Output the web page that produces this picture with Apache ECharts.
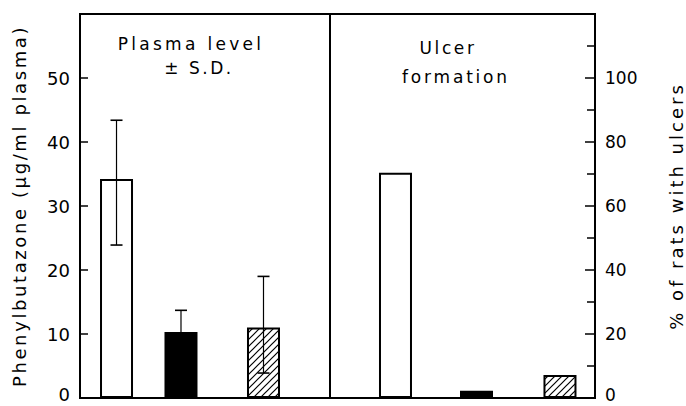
<!DOCTYPE html>
<html><head><meta charset="utf-8">
<script src="https://cdn.jsdelivr.net/npm/echarts@6/dist/echarts.min.js"></script>
<style>html,body{margin:0;padding:0;background:#fff}#c{width:686px;height:406px}</style>
</head><body><div id="c"></div>
<script>
// ---- data ----
const groupNames = ['Group 1', 'Group 2', 'Group 3'];
const plasmaLevel = [34.2, 10.3, 11.0];      // µg/ml plasma
const plasmaSDLow = [23.9, null, 3.9];       // lower end of ± S.D. bar
const plasmaSDHigh = [43.4, 13.7, 19.0];     // upper end of ± S.D. bar
const ulcerPercent = [70.4, 2.3, 7.2];       // % of rats with ulcers
const leftTicks = [0, 10, 20, 30, 40, 50];
const rightTicks = [0, 20, 40, 60, 80, 100];

// ---- layout (not data) ----
const leftPos = [7.09, 19.61, 35.63];
const rightPos = [61.26, 76.99, 93.20];
const dividerPos = 48.54;
const FONT = 'DejaVu Sans';

function hatch() {
  const s = 7, c = document.createElement('canvas');
  c.width = s; c.height = s;
  const g = c.getContext('2d');
  g.fillStyle = '#fff'; g.fillRect(0, 0, s, s);
  g.strokeStyle = '#000'; g.lineWidth = 1.2;
  g.beginPath();
  g.moveTo(0, s); g.lineTo(s, 0);
  g.moveTo(-1, 1); g.lineTo(1, -1);
  g.moveTo(s - 1, s + 1); g.lineTo(s + 1, s - 1);
  g.stroke();
  return c;
}
const fills = ['#ffffff', '#000000', { image: hatch(), repeat: 'repeat' }];
const tickFmt = ticks => v => !ticks.includes(v) ? '' : (v === 0 ? '{z|0}' : String(v));

const chart = echarts.init(document.getElementById('c'), null, { renderer: 'svg' });
const option = {
  animation: false,
  grid: { left: 80, right: 91, top: 14, bottom: 8, show: true, borderColor: '#000', borderWidth: 2,
    containLabel: false, outerBoundsMode: 'none' },
  xAxis: { type: 'value', min: 0, max: 100, show: false },
  yAxis: [
    {
      type: 'value', position: 'left', min: 0, max: 60, interval: 10,
      axisLine: { show: true, lineStyle: { color: '#000', width: 2 } },
      axisTick: { show: true, inside: true, length: 8, lineStyle: { color: '#000', width: 1.5 } },
      axisLabel: { color: '#000', fontSize: 18, fontFamily: FONT, margin: 10,
        formatter: tickFmt(leftTicks),
        rich: { z: { fontSize: 18, fontFamily: FONT, color: '#000', padding: [0, 0, 7, 0] } } },
      splitLine: { show: false },
      name: 'Phenylbutazone (µg/ml plasma)', nameLocation: 'middle', nameGap: 52,
      nameTextStyle: { color: '#000', fontSize: 18, fontFamily: FONT }
    },
    {
      type: 'value', position: 'right', min: 0, max: 120, interval: 20,
      axisLine: { show: true, lineStyle: { color: '#000', width: 2 } },
      axisTick: { show: true, inside: true, length: 10, lineStyle: { color: '#000', width: 1.5 } },
      minorTick: { show: true, splitNumber: 2, length: 8, lineStyle: { color: '#000', width: 1.5 } },
      axisLabel: { color: '#000', fontSize: 17, fontFamily: FONT, margin: 10,
        formatter: tickFmt(rightTicks),
        rich: { z: { fontSize: 17, fontFamily: FONT, color: '#000', padding: [0, 0, 7, 0] } } },
      splitLine: { show: false },
      name: '% of rats with ulcers', nameLocation: 'middle', nameGap: 72,
      nameTextStyle: { color: '#000', fontSize: 18, fontFamily: FONT }
    }
  ],
  graphic: [
    { type: 'text', style: { text: 'Plasma level', x: 191, y: 44, textAlign: 'center', textVerticalAlign: 'middle', font: '17px "DejaVu Sans"', fill: '#000' } },
    { type: 'text', style: { text: '± S.D.', x: 199, y: 68, textAlign: 'center', textVerticalAlign: 'middle', font: '17px "DejaVu Sans"', fill: '#000' } },
    { type: 'text', style: { text: 'Ulcer', x: 448, y: 48, textAlign: 'center', textVerticalAlign: 'middle', font: '17px "DejaVu Sans"', fill: '#000' } },
    { type: 'text', style: { text: 'formation', x: 456, y: 77, textAlign: 'center', textVerticalAlign: 'middle', font: '17px "DejaVu Sans"', fill: '#000' } }
  ],
  series: [
    {
      type: 'bar', xAxisIndex: 0, yAxisIndex: 0, barWidth: 33, barGap: '-100%',
      data: groupNames.map((g, i) => ({ name: g, value: [leftPos[i], plasmaLevel[i]],
        itemStyle: { color: fills[i], borderColor: '#000', borderWidth: 2 } })),
      markLine: { silent: true, symbol: 'none', label: { show: false },
        lineStyle: { color: '#000', width: 2, type: 'solid' }, data: [{ xAxis: dividerPos }] }
    },
    {
      type: 'bar', xAxisIndex: 0, yAxisIndex: 1, barWidth: 33, barGap: '-100%',
      data: groupNames.map((g, i) => ({ name: g, value: [rightPos[i], ulcerPercent[i]],
        itemStyle: { color: fills[i], borderColor: '#000', borderWidth: 2 } }))
    },
    {
      type: 'custom', xAxisIndex: 0, yAxisIndex: 0, z: 10,
      data: groupNames.map((g, i) => [leftPos[i],
        plasmaSDLow[i] == null ? plasmaLevel[i] : plasmaSDLow[i], plasmaSDHigh[i],
        plasmaSDLow[i] == null ? 0 : 1]),
      encode: { x: 0, y: [1, 2] },
      renderItem: (params, api) => {
        const x = api.value(0);
        const lo = api.coord([x, api.value(1)]);
        const hi = api.coord([x, api.value(2)]);
        const hw = 6;
        const st = { stroke: '#000', lineWidth: 1.2 };
        const ch = [
          { type: 'line', shape: { x1: hi[0], y1: hi[1], x2: lo[0], y2: lo[1] }, style: st },
          { type: 'line', shape: { x1: hi[0] - hw, y1: hi[1], x2: hi[0] + hw, y2: hi[1] }, style: { stroke: '#000', lineWidth: 1.6 } }
        ];
        if (api.value(3)) ch.push({ type: 'line', shape: { x1: lo[0] - hw, y1: lo[1], x2: lo[0] + hw, y2: lo[1] }, style: { stroke: '#000', lineWidth: 1.6 } });
        return { type: 'group', children: ch };
      }
    }
  ]
};
chart.setOption(option);
const spacing = { 'Phenylbutazone (µg/ml plasma)': 2.6, '% of rats with ulcers': 3, 'Plasma level': 3.3, '± S.D.': 2.5, 'Ulcer': 2.6, 'formation': 2.8 };
function applySpacing() {
  document.querySelectorAll('#c svg text').forEach(t => {
    const s = spacing[t.textContent];
    if (s) t.style.letterSpacing = s + 'px';
  });
}
chart.getZr().flush && chart.getZr().flush();
applySpacing();
chart.on('finished', applySpacing);
</script></body></html>
